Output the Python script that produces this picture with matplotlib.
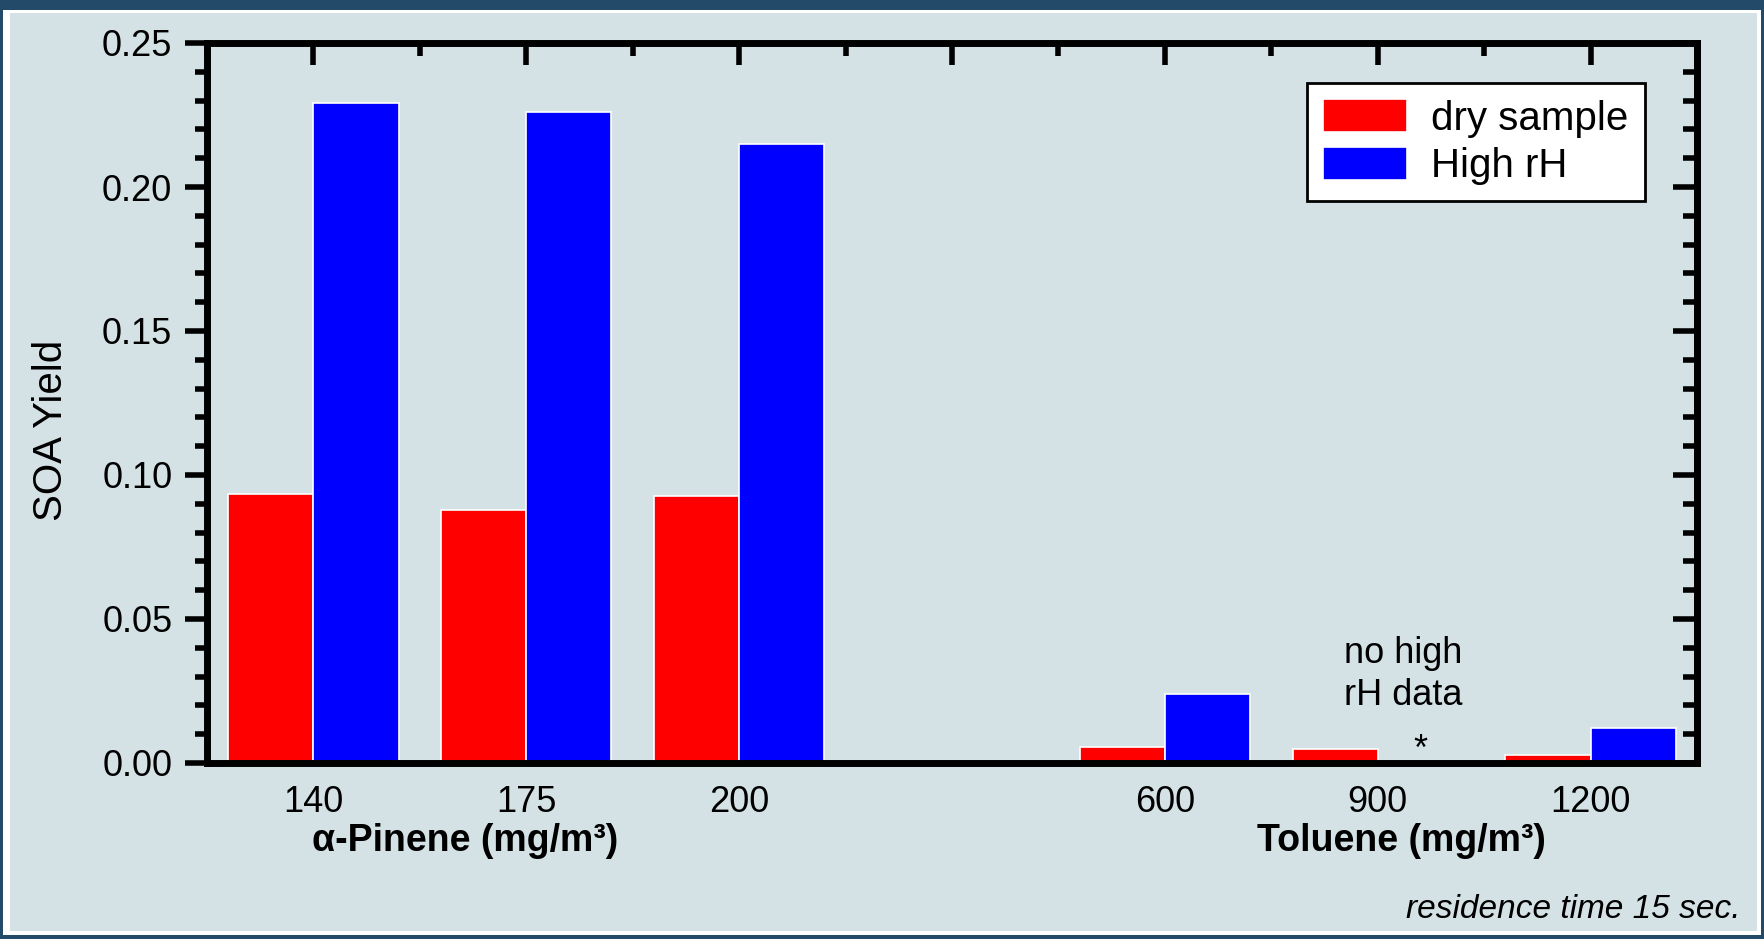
import numpy as np
import matplotlib
matplotlib.use("Agg")
import matplotlib.pyplot as plt
from matplotlib.patches import Rectangle
from matplotlib.ticker import MultipleLocator, FormatStrFormatter

plt.rcParams['font.family'] = ['Liberation Sans', 'DejaVu Sans']

# data
pinene_conc = ["140", "175", "200"]
toluene_conc = ["600", "900", "1200"]
dry_yield = [0.0935, 0.0877, 0.0928, 0.0055, 0.0048, 0.0028]
wet_yield = [0.2290, 0.2262, 0.2151, 0.0238, np.nan, 0.0123]

W, H = 1764, 939
fig = plt.figure(figsize=(W / 100, H / 100), dpi=100, facecolor="#234a68")

# frame: white line and light panel
fig.patches.append(Rectangle((3 / W, 4 / H), (W - 6) / W, (H - 14) / H,
                             transform=fig.transFigure, facecolor="white",
                             edgecolor="none", zorder=-10))
fig.patches.append(Rectangle((10 / W, 8 / H), (W - 17) / W, (H - 21) / H,
                             transform=fig.transFigure, facecolor="#d4e2e6",
                             edgecolor="none", zorder=-9))

ax = fig.add_axes([207 / W, 1 - 763 / H, (1697 - 207) / W, (763 - 43) / H])
ax.patch.set_visible(False)

# positions: one empty slot between the two compounds
pos = np.array([1, 2, 3] + [5, 6, 7], dtype=float)
bw = 0.4

ax.bar(pos - bw / 2, dry_yield, bw, color="#ff0000", edgecolor="white",
       linewidth=1.2, label="dry sample", zorder=2)
ax.bar(pos + bw / 2, wet_yield, bw, color="#0000ff", edgecolor="white",
       linewidth=1.2, label="High rH", zorder=2)

ax.set_xlim(0.5, 7.5)
ax.set_ylim(0, 0.25)

ax.set_xticks(range(1, 8))
ax.set_xticklabels(pinene_conc + [""] + toluene_conc, fontsize=26)
ax.xaxis.set_minor_locator(MultipleLocator(0.5))
ax.yaxis.set_major_locator(MultipleLocator(0.05))
ax.yaxis.set_minor_locator(MultipleLocator(0.01))
ax.yaxis.set_major_formatter(FormatStrFormatter("%.2f"))

for s in ax.spines.values():
    s.set_linewidth(5)
    s.set_zorder(5)

ax.tick_params(axis="x", which="both", bottom=False, top=True,
               direction="in", pad=16, labelsize=26)
ax.tick_params(axis="x", which="major", length=16, width=4)
ax.tick_params(axis="x", which="minor", length=9, width=4)
ax.tick_params(axis="y", which="both", left=True, right=False,
               direction="out", pad=9, labelsize=26)
ax.tick_params(axis="y", which="major", length=16, width=4)
ax.tick_params(axis="y", which="minor", length=9, width=4)

ax_r = ax.secondary_yaxis("right")
ax_r.yaxis.set_major_locator(MultipleLocator(0.05))
ax_r.yaxis.set_minor_locator(MultipleLocator(0.01))
ax_r.tick_params(which="both", direction="in", labelright=False)
ax_r.tick_params(which="major", length=17, width=4)
ax_r.tick_params(which="minor", length=10, width=4)
ax_r.spines["right"].set_linewidth(5)

fig.text(51 / W, 1 - 430 / H, "SOA Yield", rotation=90, ha="center",
         va="center", fontsize=29)

ax.text(1.715, -0.108, "α-Pinene (mg/m³)", transform=ax.get_xaxis_transform(),
        ha="center", va="center", fontsize=27, fontweight="bold")
ax.text(6.11, -0.108, "Toluene (mg/m³)", transform=ax.get_xaxis_transform(),
        ha="center", va="center", fontsize=27, fontweight="bold")

ax.text(6.12, 0.0306, "no high\nrH data", ha="center", va="center",
        fontsize=26, linespacing=1.25)
ax.text(6.2, 0.0045, "*", ha="center", va="center", fontsize=26)

fig.text(1741 / W, 1 - 909 / H, "residence time 15 sec.", ha="right",
         va="center", fontsize=24, style="italic")

leg = ax.legend(loc="upper right", bbox_to_anchor=(0.965, 0.944), fontsize=29,
                frameon=True, fancybox=False, framealpha=1, edgecolor="black",
                handlelength=2.1, handleheight=0.88, handletextpad=0.6,
                labelspacing=0.22, borderpad=0.4, borderaxespad=0)
leg.get_frame().set_linewidth(2)
leg.set_zorder(6)

fig.savefig("out.png", dpi=100, facecolor=fig.get_facecolor())
